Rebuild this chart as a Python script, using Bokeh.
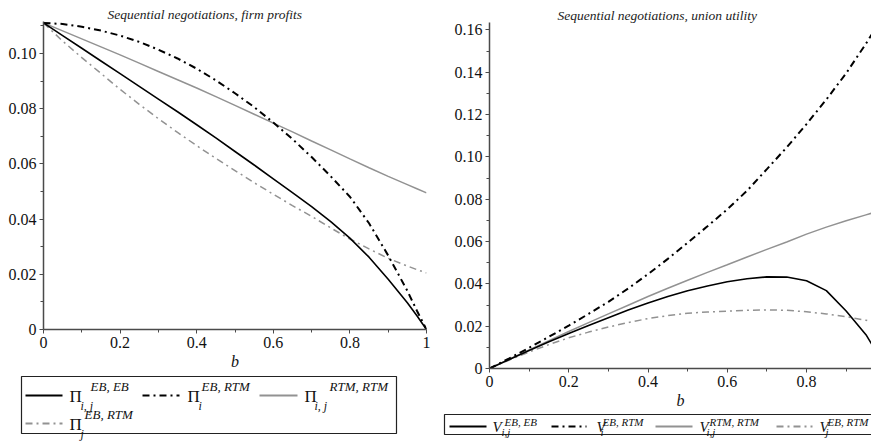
from bokeh.plotting import figure
from bokeh.layouts import row, column
from bokeh.models import Range1d, FixedTicker, CustomJSTickFormatter, Label
from bokeh.embed import file_html
from bokeh.resources import INLINE

# ---------------- data: left panel (firm profits) ----------------
b_left = [0.0, 0.05, 0.1, 0.15, 0.2, 0.25, 0.3, 0.35, 0.4, 0.45, 0.5,
          0.55, 0.6, 0.65, 0.7, 0.75, 0.8, 0.85, 0.9, 0.95, 0.975, 1.0]
pi_ij_ebeb = [0.1111, 0.1065, 0.1019, 0.0973, 0.0927, 0.0881, 0.0835, 0.0789, 0.0742, 0.0694, 0.0645,
              0.0596, 0.0546, 0.0496, 0.0445, 0.0391, 0.0331, 0.0262, 0.0182, 0.0097, 0.0050, 0.0]
pi_i_ebrtm = [0.1111, 0.1107, 0.1097, 0.1083, 0.1065, 0.1042, 0.1014, 0.0982, 0.0945, 0.0903, 0.0856,
              0.0806, 0.0750, 0.0690, 0.0625, 0.0555, 0.0481, 0.0385, 0.0268, 0.0140, 0.0068, 0.0]
pi_ij_rtmrtm = [0.1111, 0.1082, 0.1053, 0.1024, 0.0995, 0.0965, 0.0935, 0.0905, 0.0875, 0.0844, 0.0812,
                0.0780, 0.0748, 0.0716, 0.0683, 0.0651, 0.0618, 0.0586, 0.0555, 0.0525, 0.0510, 0.0495]
pi_j_ebrtm = [0.1111, 0.1045, 0.0985, 0.0928, 0.0870, 0.0816, 0.0764, 0.0714, 0.0666, 0.0620, 0.0576,
              0.0532, 0.0490, 0.0449, 0.0410, 0.0368, 0.0328, 0.0292, 0.0258, 0.0230, 0.0217, 0.0205]

# ---------------- data: right panel (union utility) ----------------
b_right = [0.0, 0.05, 0.1, 0.15, 0.2, 0.25, 0.3, 0.35, 0.4, 0.45, 0.5,
           0.55, 0.6, 0.65, 0.7, 0.75, 0.8, 0.85, 0.9, 0.95, 0.97]
v_ij_ebeb = [0.0, 0.0043, 0.0085, 0.0126, 0.0165, 0.0203, 0.0240, 0.0276, 0.0310, 0.0340, 0.0367,
             0.0390, 0.0410, 0.0424, 0.0433, 0.0432, 0.0415, 0.0368, 0.0272, 0.0160, 0.0098]
v_i_ebrtm = [0.0, 0.0048, 0.0098, 0.0150, 0.0203, 0.0258, 0.0315, 0.0378, 0.0446, 0.0518, 0.0594,
             0.0672, 0.0752, 0.0840, 0.0942, 0.1045, 0.1155, 0.1271, 0.1395, 0.1535, 0.1595]
v_ij_rtmrtm = [0.0, 0.0044, 0.0088, 0.0132, 0.0175, 0.0217, 0.0258, 0.0299, 0.0340, 0.0379, 0.0417,
               0.0454, 0.0490, 0.0527, 0.0563, 0.0598, 0.0635, 0.0668, 0.0698, 0.0726, 0.0737]
v_j_ebrtm = [0.0, 0.0040, 0.0078, 0.0113, 0.0145, 0.0172, 0.0196, 0.0217, 0.0236, 0.0250, 0.0261,
             0.0267, 0.0271, 0.0275, 0.0277, 0.0275, 0.0268, 0.0258, 0.0245, 0.0228, 0.0220]

x_ticks = [0.0, 0.2, 0.4, 0.6, 0.8, 1.0]
x_minor = [0.1, 0.3, 0.5, 0.7, 0.9]
y_ticks_left = [0.0, 0.02, 0.04, 0.06, 0.08, 0.10]
y_minor_left = [0.01, 0.03, 0.05, 0.07, 0.09, 0.11]
y_ticks_right = [0.0, 0.02, 0.04, 0.06, 0.08, 0.10, 0.12, 0.14, 0.16]
y_minor_right = [0.01, 0.03, 0.05, 0.07, 0.09, 0.11, 0.13, 0.15]

BLACK = "#000000"
GRAY = "#929292"
AXIS = "#4a4a4a"
SERIF = "Liberation Serif"
DASHDOT = "7 4 2 4"

xfmt = CustomJSTickFormatter(code="""
if (Math.abs(tick) < 1e-9) return '0';
if (Math.abs(tick - 1) < 1e-9) return '1';
return tick.toFixed(1);""")
yfmt = CustomJSTickFormatter(code="""
if (Math.abs(tick) < 1e-9) return '0';
return tick.toFixed(2);""")


def style(p, title, yt, ym):
    p.title.text = title
    p.title.text_font = SERIF
    p.title.text_font_style = "italic"
    p.title.text_font_size = "13.5px"
    p.title.text_color = "#222222"
    p.title.align = "left"
    p.title.standoff = 0
    p.grid.visible = False
    p.outline_line_color = None
    p.background_fill_color = "white"
    p.border_fill_color = "white"
    for ax in (p.xaxis[0], p.yaxis[0]):
        ax.axis_line_color = AXIS
        ax.axis_line_width = 1.5
        ax.major_tick_line_color = AXIS
        ax.minor_tick_line_color = AXIS
        ax.major_tick_in = 0
        ax.major_tick_out = 4
        ax.minor_tick_in = 0
        ax.minor_tick_out = 3
        ax.major_label_standoff = 3
        ax.major_label_text_font = SERIF
        ax.major_label_text_font_size = "16px"
        ax.major_label_text_color = "#111111"
    p.xaxis[0].ticker = FixedTicker(ticks=x_ticks, minor_ticks=x_minor)
    p.xaxis[0].formatter = xfmt
    p.yaxis[0].ticker = FixedTicker(ticks=yt, minor_ticks=ym)
    p.yaxis[0].formatter = yfmt
    p.xaxis[0].axis_label = "b"
    p.xaxis[0].axis_label_text_font = SERIF
    p.xaxis[0].axis_label_text_font_style = "italic"
    p.xaxis[0].axis_label_text_font_size = "16px"
    p.xaxis[0].axis_label_standoff = 2
    p.xaxis[0].axis_label_text_color = "#111111"


# ---------------- left plot ----------------
p1 = figure(width=439, height=373, x_range=Range1d(0, 1), y_range=Range1d(0, 0.1116),
            min_border_left=43, min_border_right=13, min_border_top=21, min_border_bottom=44,
            toolbar_location=None, output_backend="svg")
style(p1, "Sequential negotiations, firm profits", y_ticks_left, y_minor_left)
p1.title.offset = 64
p1.line(b_left, pi_ij_rtmrtm, line_color=GRAY, line_width=1.5)
p1.line(b_left, pi_j_ebrtm, line_color=GRAY, line_width=1.5, line_dash=DASHDOT)
p1.line(b_left, pi_ij_ebeb, line_color=BLACK, line_width=1.6)
p1.line(b_left, pi_i_ebrtm, line_color=BLACK, line_width=2, line_dash=DASHDOT)

# ---------------- right plot ----------------
p2 = figure(width=432, height=411, x_range=Range1d(0, 0.964), y_range=Range1d(0, 0.1635),
            min_border_left=50, min_border_right=0, min_border_top=22, min_border_bottom=43,
            toolbar_location=None, output_backend="svg")
style(p2, "Sequential negotiations, union utility", y_ticks_right, y_minor_right)
p2.title.offset = 68
p2.line(b_right, v_ij_rtmrtm, line_color=GRAY, line_width=1.5)
p2.line(b_right, v_j_ebrtm, line_color=GRAY, line_width=1.5, line_dash=DASHDOT)
p2.line(b_right, v_ij_ebeb, line_color=BLACK, line_width=1.6)
p2.line(b_right, v_i_ebrtm, line_color=BLACK, line_width=2, line_dash=DASHDOT)


# ---------------- legends (separate small canvases) ----------------
def legend_fig(w, h):
    f = figure(width=w, height=h, x_range=Range1d(0, w), y_range=Range1d(0, h),
               min_border=0, toolbar_location=None, output_backend="svg",
               x_axis_location=None, y_axis_location=None)
    f.grid.visible = False
    f.outline_line_color = None
    f.background_fill_color = "white"
    f.border_fill_color = "white"
    return f


def txt(f, x, y, s, size, italic=True):
    f.add_layout(Label(x=x, y=y, text=s, text_font=SERIF, text_font_size=size,
                       text_font_style="italic" if italic else "normal",
                       text_baseline="middle", text_align="left", text_color="#111111"))


styles = [(BLACK, 1.8, "solid"), (BLACK, 2.2, DASHDOT), (GRAY, 1.8, "solid"), (GRAY, 1.8, DASHDOT)]

# left legend (canvas spans page y 374..442)
L1 = legend_fig(439, 68)
L1.quad(left=21, right=396, bottom=8, top=65, fill_color=None, line_color="#222222", line_width=1.2)
left_items = [
    # sample x0, x1, y, symbol x, sub x, sub, sup x, sup
    (25, 62, 46, 69, 80, "i, j", 90, "EB, EB"),
    (142, 179, 46, 187, 198, "i", 201, "EB, RTM"),
    (259, 297, 46, 304, 314, "i, j", 329, "RTM, RTM"),
    (25, 62, 18, 69, 80, "j", 84, "EB, RTM"),
]
for (x0, x1, y, sx, subx, sub, supx, sup), (c, w, d) in zip(left_items, styles):
    L1.segment(x0=[x0], y0=[y], x1=[x1], y1=[y], line_color=c, line_width=w, line_dash=d)
    txt(L1, sx, y - 1, "\u03a0", "17px", italic=False)
    txt(L1, subx, y - 10, sub, "12px")
    txt(L1, supx, y + 9, sup, "13px")

# right legend (canvas spans page y 412..442)
L2 = legend_fig(432, 30)
L2.quad(left=5, right=440, bottom=7, top=27, fill_color=None, line_color="#222222", line_width=1.2)
right_items = [
    (10, 47, 53, 62, "i,j", 65, "EB, EB"),
    (112, 147, 157, 161, "i", 163, "EB, RTM"),
    (216, 253, 260, 267, "i,j", 270, "RTM, RTM"),
    (337, 373, 380, 386, "j", 388, "EB, RTM"),
]
for (x0, x1, sx, subx, sub, supx, sup), (c, w, d) in zip(right_items, styles):
    L2.segment(x0=[x0], y0=[15], x1=[x1], y1=[15], line_color=c, line_width=w, line_dash=d)
    txt(L2, sx, 15, "V", "15px")
    txt(L2, subx, 10, sub, "11px")
    txt(L2, supx, 20, sup, "11px")

layout = row(column(p1, row(L1)), column(p2, row(L2)))
open("out.html", "w").write(file_html(layout, INLINE))
